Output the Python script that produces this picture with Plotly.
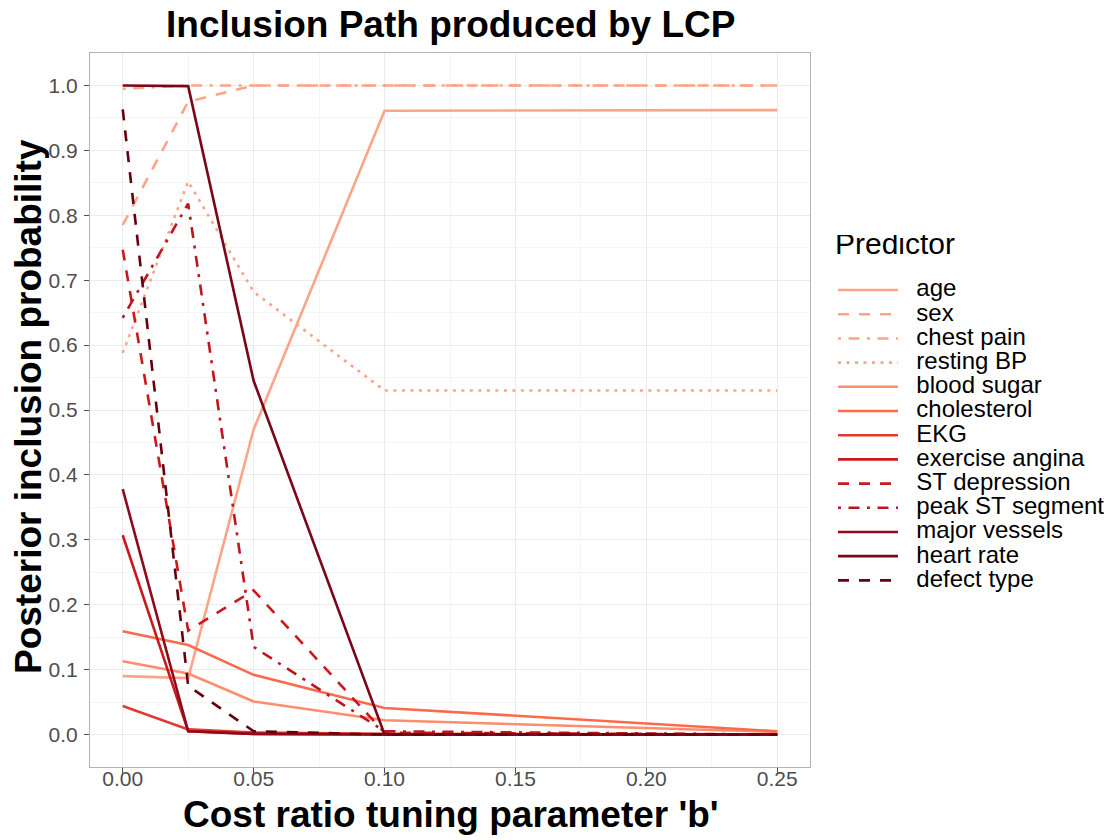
import plotly.graph_objects as go

b_values = [0.0, 0.025, 0.05, 0.1, 0.25]

predictors = ["age", "sex", "chest pain", "resting BP", "blood sugar", "cholesterol",
              "EKG", "exercise angina", "ST depression", "peak ST segment",
              "major vessels", "heart rate", "defect type"]

age = [0.090, 0.087, 0.470, 0.961, 0.962]
sex = [0.785, 0.975, 1.000, 1.000, 1.000]
chest_pain = [0.995, 1.000, 1.000, 1.000, 1.000]
resting_bp = [0.588, 0.852, 0.682, 0.530, 0.530]
blood_sugar = [0.113, 0.094, 0.051, 0.022, 0.004]
cholesterol = [0.159, 0.138, 0.092, 0.041, 0.005]
ekg = [0.044, 0.008, 0.003, 0.001, 0.000]
exercise_angina = [0.307, 0.005, 0.001, 0.000, 0.000]
st_depression = [0.747, 0.160, 0.222, 0.003, 0.000]
peak_st = [0.642, 0.818, 0.135, 0.005, 0.000]
major_vessels = [0.378, 0.005, 0.001, 0.000, 0.000]
heart_rate = [1.000, 0.999, 0.545, 0.000, 0.000]
defect_type = [0.963, 0.075, 0.005, 0.000, 0.000]

series = [age, sex, chest_pain, resting_bp, blood_sugar, cholesterol, ekg,
          exercise_angina, st_depression, peak_st, major_vessels, heart_rate, defect_type]

colors = ["#FCA487", "#FCA487", "#FCA487", "#FCA487", "#FC8D6D", "#FB6A4A",
          "#E23A2E", "#CB181D", "#CB181D", "#BF151F", "#8E0B1B", "#7A0617", "#67000D"]

DASH = "11px,10px"
DOTDASH = "3px,7.5px,11px,7.5px"
DOT = "3px,5.5px"
dashes = ["solid", DASH, DOTDASH, DOT, "solid", "solid", "solid", "solid",
          DASH, DOTDASH, "solid", "solid", DASH]

fig = go.Figure()
for name, vals, col, d in zip(predictors, series, colors, dashes):
    label = '<span style="font-size:24px">\u00a0\u00a0' + name + '</span>'
    fig.add_trace(go.Scatter(x=b_values, y=vals, mode="lines", name=label,
                             line=dict(color=col, width=2.6, dash=d)))

sans = "Liberation Sans, Arial, Helvetica"
OFF = 8  # page body margin
L, R, T, B = 90, 810, 53, 767          # target panel edges in page pixels
W, H = 1115 - OFF, 840 - OFF
pw, ph = R - L, B - T

def px_x(p):
    return (p - L) / pw

def px_y(p):
    return (B - p) / ph

fig.update_layout(
    width=W, height=H,
    paper_bgcolor="white", plot_bgcolor="white",
    margin=dict(l=L - OFF, r=W - (R - OFF), t=T - OFF, b=H - (B - OFF), autoexpand=False),
    legend=dict(title=dict(text='<span style="font-size:30px">Predictor</span><br>\u00a0',
                           font=dict(family=sans, size=14.6, color="black")),
                font=dict(family=sans, size=16.3, color="black"),
                x=px_x(833), xanchor="left", y=px_y(235), yanchor="top",
                tracegroupgap=0, itemwidth=60, bgcolor="rgba(0,0,0,0)"),
    showlegend=True,
    annotations=[
        dict(text="<b>Inclusion Path produced by LCP</b>", xref="paper", yref="paper",
             x=px_x(450), y=px_y(25), xanchor="center", yanchor="middle", showarrow=False,
             font=dict(family=sans, size=37, color="black")),
        dict(text="<b>Cost ratio tuning parameter 'b'</b>", xref="paper", yref="paper",
             x=px_x(451), y=px_y(814), xanchor="center", yanchor="middle", showarrow=False,
             font=dict(family=sans, size=37, color="black")),
        dict(text="<b>Posterior inclusion probability</b>", xref="paper", yref="paper",
             x=px_x(28), y=px_y(407), xanchor="center", yanchor="middle", showarrow=False,
             textangle=-90, font=dict(family=sans, size=37, color="black")),
    ],
)

fig.update_xaxes(range=[-0.0125, 0.2625], tickvals=[0, 0.05, 0.1, 0.15, 0.2, 0.25],
                 ticktext=["0.00", "0.05", "0.10", "0.15", "0.20", "0.25"],
                 showgrid=True, gridcolor="#EBEBEB", gridwidth=1.2,
                 minor=dict(tickvals=[0.025, 0.075, 0.125, 0.175, 0.225], showgrid=True,
                            gridcolor="#F5F5F5", gridwidth=1),
                 zeroline=False, showline=True, linecolor="#B3B3B3", linewidth=1, mirror=True,
                 ticks="outside", ticklen=5, tickcolor="#4D4D4D", automargin=False,
                 ticklabelstandoff=-12,
                 tickfont=dict(family=sans, size=21, color="#4D4D4D"))

yt = [0.0, 0.1, 0.2, 0.3, 0.4, 0.5, 0.6, 0.7, 0.8, 0.9, 1.0]
fig.update_yaxes(range=[-0.05, 1.05], tickvals=yt, ticktext=[f"{v:.1f}" for v in yt],
                 showgrid=True, gridcolor="#EBEBEB", gridwidth=1.2,
                 minor=dict(tickvals=[0.05 + 0.1 * i for i in range(10)], showgrid=True,
                            gridcolor="#F5F5F5", gridwidth=1),
                 zeroline=False, showline=True, linecolor="#B3B3B3", linewidth=1, mirror=True,
                 ticks="outside", ticklen=5, tickcolor="#4D4D4D", automargin=False,
                 ticklabelstandoff=2,
                 tickfont=dict(family=sans, size=21, color="#4D4D4D"))

fig.write_html("out.html")
